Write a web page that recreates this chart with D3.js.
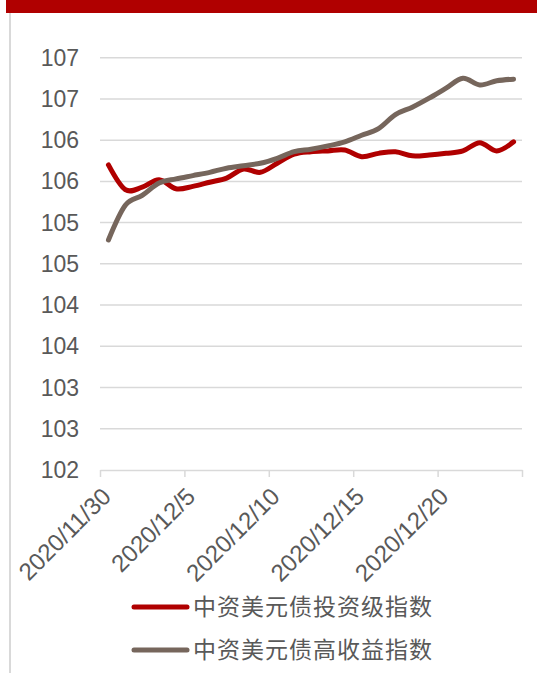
<!DOCTYPE html>
<html>
<head>
<meta charset="utf-8">
<script src="https://cdn.jsdelivr.net/npm/d3@7"></script>
<style>
  html, body { margin: 0; padding: 0; background: #fff; }
  svg { display: block; }
</style>
</head>
<body>
<svg id="chart" width="537" height="673"></svg>
<script>
const dates = ["2020-11-30","2020-12-01","2020-12-02","2020-12-03","2020-12-04","2020-12-05","2020-12-06",
  "2020-12-07","2020-12-08","2020-12-09","2020-12-10","2020-12-11","2020-12-12","2020-12-13","2020-12-14",
  "2020-12-15","2020-12-16","2020-12-17","2020-12-18","2020-12-19","2020-12-20","2020-12-21","2020-12-22",
  "2020-12-23","2020-12-24"];
const seriesNames = ["中资美元债投资级指数", "中资美元债高收益指数"];
const investGrade = [105.70,105.40,105.43,105.52,105.41,105.44,105.49,105.54,105.65,105.61,105.72,105.83,105.86,
  105.87,105.88,105.80,105.84,105.86,105.81,105.82,105.84,105.87,105.97,105.87,105.98];
const highYield = [104.79,105.21,105.33,105.48,105.53,105.57,105.61,105.66,105.69,105.72,105.78,105.86,105.89,
  105.93,105.98,106.06,106.14,106.31,106.40,106.51,106.63,106.75,106.67,106.72,106.74];
const yTicks = [102,102.5,103,103.5,104,104.5,105,105.5,106,106.5,107];
const xTickDates = ["2020-11-30","2020-12-05","2020-12-10","2020-12-15","2020-12-20","2020-12-25"];
const xTickLabels = ["2020/11/30","2020/12/5","2020/12/10","2020/12/15","2020/12/20"];
const colors = ["#B00000", "#76665C"];

const svg = d3.select("#chart");
const parse = d3.timeParse("%Y-%m-%d");
const HALF_DAY = 12 * 3600 * 1000;

// top banner and left frame line
svg.append("rect").attr("x", 6).attr("y", 0).attr("width", 531).attr("height", 13).attr("fill", "#B00000");
svg.append("line").attr("x1", 10).attr("x2", 10).attr("y1", 13).attr("y2", 673)
  .attr("stroke", "#d9d9d9").attr("stroke-width", 2);

const x = d3.scaleTime().domain([parse("2020-11-30"), parse("2020-12-25")]).range([100, 522]);
const y = d3.scaleLinear().domain([102, 107]).range([470, 57.7]);

// gridlines
svg.append("g").selectAll("line").data(yTicks.slice(1)).join("line")
  .attr("x1", 100).attr("x2", 522)
  .attr("y1", d => y(d)).attr("y2", d => y(d))
  .attr("stroke", "#d9d9d9").attr("stroke-width", 1.5);

// y labels
svg.append("g").selectAll("text").data(yTicks).join("text")
  .attr("x", 79).attr("y", d => y(d)).attr("dy", "0.35em")
  .attr("text-anchor", "end")
  .attr("font-family", "Liberation Sans, Arial, sans-serif")
  .attr("font-size", 23).attr("fill", "#595959")
  .text(d => d3.format(".0f")(Math.round(d)));

// x axis
const xAxis = d3.axisBottom(x)
  .tickValues(xTickDates.map(parse))
  .tickSize(7).tickSizeOuter(0).tickFormat("");
const gx = svg.append("g").attr("transform", "translate(0,470)").call(xAxis);
gx.select(".domain").attr("stroke", "#d9d9d9").attr("stroke-width", 1.5);
gx.selectAll(".tick line").attr("stroke", "#d9d9d9").attr("stroke-width", 1.5);

svg.append("g").selectAll("text").data(xTickLabels).join("text")
  .attr("transform", (d, i) => {
    const px = x(new Date(parse(xTickDates[i]).getTime() + HALF_DAY)) - 2;
    return `translate(${px},492) rotate(-45)`;
  })
  .attr("text-anchor", "end").attr("dy", "0.35em")
  .attr("font-family", "Liberation Sans, Arial, sans-serif")
  .attr("font-size", 24).attr("fill", "#595959")
  .text(d => d);

// lines
const line = d3.line()
  .x(d => x(new Date(d.date.getTime() + HALF_DAY)))
  .y(d => y(d.v))
  .curve(d3.curveCardinal.tension(0));

[investGrade, highYield].forEach((vals, si) => {
  const pts = vals.map((v, i) => ({date: parse(dates[i]), v}));
  svg.append("path").datum(pts)
    .attr("fill", "none").attr("stroke", colors[si]).attr("stroke-width", 5)
    .attr("stroke-linecap", "round").attr("stroke-linejoin", "round")
    .attr("d", line);
});

// legend
const lg = svg.append("g");
seriesNames.forEach((name, i) => {
  const ly = 607 + i * 43;
  lg.append("line").attr("x1", 134).attr("x2", 187).attr("y1", ly).attr("y2", ly)
    .attr("stroke", colors[i]).attr("stroke-width", 5).attr("stroke-linecap", "round");
  lg.append("text").attr("x", 193).attr("y", ly).attr("dy", "0.35em")
    .attr("font-family", "'Noto Sans CJK SC', sans-serif")
    .attr("font-size", 23).attr("fill", "#595959")
    .attr("letter-spacing", 1)
    .text(name);
});
</script>
</body>
</html>
